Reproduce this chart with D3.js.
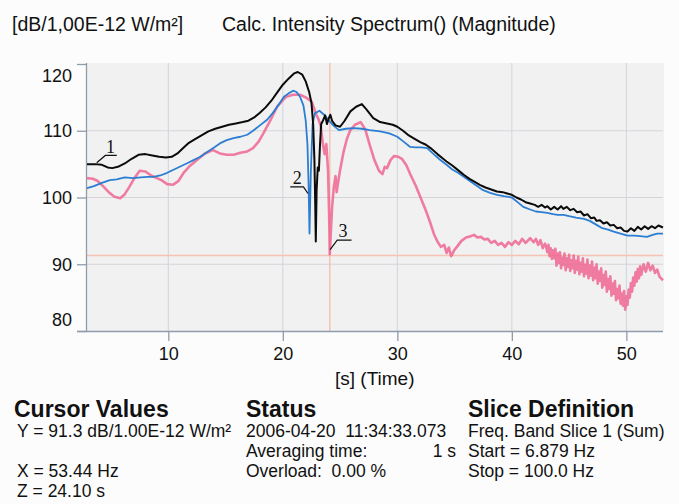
<!DOCTYPE html>
<html><head><meta charset="utf-8">
<script src="https://cdn.jsdelivr.net/npm/d3@7"></script>
<style>
html,body{margin:0;padding:0;background:#fcfcfc;}
svg{display:block;}
text{font-family:"Liberation Sans",Arial,Helvetica,sans-serif;fill:#111;white-space:pre;}
</style></head><body>
<svg id="c" width="679" height="504"></svg>
<script>
// ---- data ----
const titleUnit = "[dB/1,00E-12 W/m²]";
const titleText = "Calc. Intensity Spectrum() (Magnitude)";
const xLabel = "[s] (Time)";
const xDomain = [2.9, 53.2];
const yDomain = [80, 120];
const xTicks = [10, 20, 30, 40, 50];
const yTicks = [80, 90, 100, 110, 120];
const yGrid = [90, 100, 110];
const cursorX = 24.10;
const cursorY = 91.3;

// series 1 (black) [time s, level dB]
const series1 = [
[2.9,105.0],[3.6,105.0],[4.2,104.9],[4.7,104.5],[5.1,104.4],[5.6,104.6],[6.2,105.1],[6.8,105.8],[7.4,106.4],[8.0,106.5],
[8.6,106.3],[9.2,106.1],[9.8,106.0],[10.3,106.1],[10.8,106.6],[11.3,107.4],[11.8,108.2],[12.3,108.7],[12.9,109.3],[13.5,109.9],
[14.1,110.3],[14.7,110.6],[15.3,110.9],[15.9,111.1],[16.5,111.3],[17.0,111.5],[17.5,112.0],[18.0,112.7],[18.5,113.5],[19.0,114.5],
[19.5,115.7],[20.0,116.9],[20.5,117.8],[21.0,118.6],[21.3,118.8],[21.7,118.4],[22.0,117.4],[22.3,115.8],[22.5,114.2],[22.65,111.0],
[22.76,105.6],[22.83,99.0],[22.88,93.4],[22.95,101.0],[23.05,104.5],[23.15,104.0],[23.25,108.0],[23.35,111.0],[23.5,111.5],[23.7,112.3],
[23.85,111.0],[24.0,111.8],[24.15,112.4],[24.3,111.5],[24.6,110.8],[25.0,110.6],[25.4,111.5],[25.9,112.9],[26.4,113.6],[26.9,114.0],
[27.3,113.2],[27.9,111.9],[28.5,111.3],[29.1,111.1],[29.6,110.9],[30.0,110.6],[30.5,110.0],[31.0,109.3],[31.4,108.9],[32.0,108.3],
[32.5,107.9],[32.9,107.4],[33.5,106.5],[34.0,105.8],[34.3,105.4],[34.8,104.8],[35.3,104.1],[35.8,103.4],[36.3,102.8],[36.8,102.3],
[37.2,101.9],[37.7,101.5],[38.2,101.2],[38.7,100.9],[39.2,100.8],[39.6,100.6],[40.0,100.4],[40.4,100.0],[40.8,99.7],[41.2,99.3],
[41.6,99.1],[42.0,98.9],[42.3,98.6],[42.6,98.9],[42.9,98.5],[43.1,98.7],[43.4,98.2],[43.7,98.6],[44.0,98.2],[44.3,98.7],
[44.5,98.3],[44.8,98.6],[45.1,98.1],[45.4,98.3],[45.7,97.8],[46.0,97.9],[46.3,97.3],[46.6,97.5],[46.9,96.9],[47.2,97.0],
[47.4,96.5],[47.7,96.6],[48.0,96.1],[48.3,96.3],[48.6,95.8],[48.9,95.9],[49.2,95.4],[49.5,95.5],[49.8,95.0],[50.1,94.9],
[50.4,95.4],[50.7,95.0],[51.0,95.6],[51.3,95.2],[51.6,95.7],[51.9,95.3],[52.2,95.7],[52.5,95.4],[52.8,95.8],[53.2,95.5]
];

// series 2 (blue)
const series2 = [
[2.9,101.4],[3.5,101.7],[4.2,102.2],[4.9,102.6],[5.5,102.7],[6.2,103.0],[6.9,102.9],[7.6,103.0],[8.2,103.1],[8.7,103.1],
[9.3,103.3],[9.9,103.7],[10.5,104.2],[11.0,104.6],[11.6,105.1],[12.2,105.6],[12.8,106.1],[13.4,106.8],[14.0,107.5],[14.5,108.1],
[15.1,108.6],[15.7,108.9],[16.3,109.1],[16.9,109.4],[17.4,110.0],[18.0,110.8],[18.6,111.6],[19.1,112.6],[19.6,113.8],[20.1,115.1],
[20.5,115.6],[20.9,116.0],[21.2,115.8],[21.5,115.1],[21.8,113.8],[22.0,111.5],[22.15,108.0],[22.25,102.0],[22.33,94.6],[22.45,104.0],
[22.6,111.0],[22.8,112.6],[23.2,113.0],[23.6,112.4],[24.0,111.6],[24.4,110.8],[24.9,110.1],[25.5,110.3],[26.2,110.4],[26.9,110.3],
[27.6,110.1],[28.5,109.9],[29.3,109.6],[30.0,109.1],[30.6,108.3],[31.1,107.6],[31.6,107.5],[32.1,107.5],[32.6,107.4],[33.1,106.6],
[33.7,105.7],[34.3,104.9],[34.8,104.2],[35.3,103.7],[35.8,103.1],[36.3,102.5],[36.9,101.8],[37.5,101.1],[38.1,100.7],[38.7,100.4],
[39.3,100.2],[40.0,100.0],[40.5,99.3],[41.0,98.6],[41.6,98.2],[42.1,97.9],[42.6,97.8],[43.1,97.7],[43.6,97.5],[44.0,97.4],
[44.5,97.4],[45.0,97.2],[45.6,97.0],[46.3,96.8],[46.8,96.5],[47.4,95.9],[47.9,95.4],[48.4,95.2],[48.9,94.9],[49.5,94.6],
[50.1,94.3],[50.7,94.3],[51.2,94.2],[51.8,94.1],[52.3,94.4],[52.7,94.6],[53.2,94.6]
];

// series 3 (pink)
const series3 = [
[2.9,102.9],[3.4,102.8],[3.8,102.5],[4.3,101.7],[4.8,100.8],[5.3,100.1],[5.8,99.9],[6.2,100.5],[6.6,101.6],[7.0,102.8],
[7.5,104.0],[8.0,103.9],[8.5,103.3],[9.0,102.9],[9.4,102.6],[9.9,102.0],[10.4,101.9],[10.9,102.5],[11.3,103.6],[11.8,104.6],
[12.5,105.6],[13.2,106.6],[13.9,107.1],[14.5,106.6],[15.1,106.4],[15.7,106.4],[16.3,106.7],[16.9,106.9],[17.4,107.4],[17.9,108.4],
[18.3,109.6],[18.9,111.5],[19.5,113.6],[20.0,114.6],[20.3,115.1],[20.9,115.4],[21.5,115.4],[22.0,115.0],[22.5,114.4],[22.7,113.5],
[22.9,112.5],[23.1,111.8],[23.3,110.8],[23.5,108.0],[23.65,106.5],[23.8,108.0],[23.95,104.0],[24.05,97.0],[24.1,91.5],[24.2,95.0],
[24.3,98.5],[24.45,101.5],[24.6,103.2],[24.7,100.8],[24.85,102.5],[25.0,104.1],[25.3,106.8],[25.6,108.8],[25.9,110.1],[26.3,110.9],
[26.8,111.3],[27.2,110.2],[27.6,107.8],[28.0,105.6],[28.4,104.0],[28.7,103.5],[28.9,104.6],[29.1,104.4],[29.4,105.6],[29.7,106.2],
[30.1,106.1],[30.4,105.8],[30.8,104.8],[31.1,103.6],[31.6,101.8],[32.0,100.1],[32.5,98.0],[32.9,96.1],[33.2,94.5],[33.5,93.4],
[33.8,92.6],[34.1,92.9],[34.3,91.7],[34.5,92.5],[34.7,91.2],[35.0,92.2],[35.2,92.6],[35.6,93.5],[36.0,94.0],[36.4,94.2],
[36.7,94.4],[37.0,94.0],[37.3,94.1],[37.6,93.7],[37.9,93.8],[38.2,93.2],[38.5,93.5],[38.8,92.9],[39.1,93.2],[39.4,92.6],
[39.7,93.3],[40.0,92.9],[40.3,93.5],[40.6,93.0],[40.9,93.8],[41.2,93.2],[41.6,93.9],[41.9,93.3],[42.1,93.8],[42.3,92.9],
[42.5,93.6],[42.7,92.4],[42.9,93.1],[43.0,92.6],[43.1,91.8],[43.2,92.9],[43.3,91.2],[43.4,92.4],[43.5,90.8],[43.6,92.1],
[43.7,90.9],[43.8,92.3],[43.9,89.8],[44.0,91.6],[44.1,90.2],[44.2,91.8],[44.3,89.4],[44.4,91.0],[44.5,89.9],[44.6,91.6],
[44.7,89.1],[44.8,90.9],[44.9,89.6],[45.0,91.4],[45.1,89.0],[45.2,90.6],[45.3,89.4],[45.4,91.3],[45.5,88.7],[45.6,90.5],
[45.7,89.2],[45.8,91.1],[45.9,88.5],[46.0,90.2],[46.1,88.9],[46.2,90.9],[46.3,88.2],[46.4,89.9],[46.5,88.6],[46.6,90.7],
[46.7,87.9],[46.8,89.8],[46.9,88.3],[47.0,90.4],[47.1,87.6],[47.2,89.5],[47.3,87.9],[47.4,90.0],[47.5,87.1],[47.6,88.9],
[47.7,87.5],[47.8,89.4],[47.9,86.5],[48.0,88.4],[48.1,86.9],[48.2,88.9],[48.3,85.9],[48.4,87.8],[48.5,86.3],[48.6,88.2],
[48.7,85.3],[48.8,87.1],[48.9,85.6],[49.0,87.5],[49.1,84.6],[49.2,86.3],[49.3,84.9],[49.4,86.8],[49.5,84.1],[49.6,85.6],
[49.7,83.8],[49.8,86.0],[49.9,83.2],[50.0,85.2],[50.1,83.9],[50.2,86.2],[50.3,85.0],[50.4,87.2],[50.5,85.9],[50.6,88.0],
[50.7,86.8],[50.8,88.8],[50.9,87.4],[51.0,89.3],[51.1,87.9],[51.2,89.7],[51.3,88.4],[51.5,90.0],[51.7,88.9],[51.9,90.2],
[52.1,89.1],[52.3,89.8],[52.5,88.7],[52.7,89.2],[52.9,88.1],[53.2,87.6]
];

// curve annotations: label, text position [t, dB], leader polyline in [t, dB]
const annotations = [
  {label:"1", at:[4.95,107.6], leader:[[3.75,105.2],[4.5,106.3],[5.5,106.3]]},
  {label:"2", at:[21.25,103.0], leader:[[20.65,101.6],[21.8,101.6],[22.2,100.6]]},
  {label:"3", at:[25.25,95.1], leader:[[24.13,92.2],[24.75,93.6],[26.0,93.6]]}
];

const cursorLines = ["Y = 91.3 dB/1.00E-12 W/m²", "", "X = 53.44 Hz", "Z = 24.10 s"];
const statusLines = ["2006-04-20  11:34:33.073", "Averaging time:", "Overload:  0.00 %"];
const statusValue = "1 s";
const sliceLines = ["Freq. Band Slice 1 (Sum)", "Start = 6.879 Hz", "Stop = 100.0 Hz"];
const headings = ["Cursor Values", "Status", "Slice Definition"];

// ---- drawing ----
const svg = d3.select("#c");
const L = 87, R = 663, T = 63, B = 331;
const x = d3.scaleLinear().domain(xDomain).range([L, R]);
const y = d3.scaleLinear().domain(yDomain).range([B, T + 1]);

svg.append("rect").attr("x",0).attr("y",0).attr("width",679).attr("height",504).attr("fill","#fcfcfc");
svg.append("rect").attr("x",L).attr("y",T).attr("width",R-L+1).attr("height",B-T).attr("fill","#f1f1f1");

// grid
svg.append("g").selectAll("line").data(xTicks).join("line")
  .attr("x1",d=>x(d)).attr("x2",d=>x(d)).attr("y1",T).attr("y2",B)
  .attr("stroke","#cdd5dd").attr("stroke-width",1);
svg.append("g").selectAll("line").data(yGrid).join("line")
  .attr("x1",L).attr("x2",R).attr("y1",d=>y(d)).attr("y2",d=>y(d))
  .attr("stroke","#d6d4da").attr("stroke-width",1);

// cursor lines
svg.append("line").attr("x1",L).attr("x2",R).attr("y1",y(cursorY)).attr("y2",y(cursorY))
  .attr("stroke","#f6c2b2").attr("stroke-width",1.5);
svg.append("line").attr("x1",x(cursorX)).attr("x2",x(cursorX)).attr("y1",T).attr("y2",B)
  .attr("stroke","#f6c2b2").attr("stroke-width",1.5);

// axes
const axColor = "#8f9caa";
const gy = svg.append("g").attr("transform",`translate(${L},0)`)
  .call(d3.axisLeft(y).tickValues(yTicks).tickSize(10).tickPadding(5).tickFormat(d3.format("d")));
const gx = svg.append("g").attr("transform",`translate(0,${B})`)
  .call(d3.axisBottom(x).tickValues(xTicks).tickSize(10).tickPadding(6).tickFormat(d3.format("d")));
[gx, gy].forEach(g=>{
  g.select(".domain").attr("stroke",axColor).attr("stroke-width",1.3);
  g.selectAll(".tick line").attr("stroke",axColor).attr("stroke-width",1.3);
  g.selectAll(".tick text").attr("font-size",18).attr("fill","#111")
    .attr("font-family","'Liberation Sans',Arial,sans-serif");
});
gx.select(".domain").attr("d",`M${L-10},0.5H${R}`);
gy.select(".domain").attr("d",`M-0.5,${T}V${B}`);
gy.selectAll(".tick text").attr("dy",d=> d===yDomain[1] ? "0.95em" : d===yDomain[0] ? "-0.3em" : "0.32em");

// lines
const line = d3.line().x(d=>x(d[0])).y(d=>y(d[1]));
svg.append("path").datum(series3).attr("d",line).attr("fill","none")
  .attr("stroke","#ef5f8c").attr("stroke-opacity",0.8).attr("stroke-width",2.6).attr("stroke-linejoin","round");
svg.append("path").datum(series2).attr("d",line).attr("fill","none")
  .attr("stroke","#2c7ed2").attr("stroke-width",1.8).attr("stroke-linejoin","round");
svg.append("path").datum(series1).attr("d",line).attr("fill","none")
  .attr("stroke","#0b0b0b").attr("stroke-width",2).attr("stroke-linejoin","round");

// annotations
const ag = svg.append("g");
annotations.forEach(a=>{
  ag.append("path").attr("d", d3.line().x(d=>x(d[0])).y(d=>y(d[1]))(a.leader))
    .attr("fill","none").attr("stroke","#111").attr("stroke-width",1.2);
  ag.append("text").attr("x",x(a.at[0])).attr("y",y(a.at[1])).attr("dy","0.35em")
    .attr("text-anchor","middle").attr("font-size",18)
    .style("font-family","'Liberation Serif','Times New Roman',serif").text(a.label);
});

// titles
svg.append("text").attr("x",12).attr("y",31).attr("font-size",19.5).text(titleUnit);
svg.append("text").attr("x",222).attr("y",31).attr("font-size",19.5).text(titleText);
svg.append("text").attr("x",335).attr("y",385).attr("font-size",19).text(xLabel);

// bottom info
const colX = [14, 246, 468];
svg.append("g").selectAll("text").data(headings).join("text")
  .attr("x",(d,i)=>colX[i]).attr("y",417).attr("font-size",23).attr("font-weight","bold").text(d=>d);
const rowY = [437, 457, 477, 497];
const fs = 17.5;
svg.append("g").selectAll("text").data(cursorLines).join("text")
  .attr("x",17).attr("y",(d,i)=>rowY[i]).attr("font-size",fs).text(d=>d);
svg.append("g").selectAll("text").data(statusLines).join("text")
  .attr("x",246).attr("y",(d,i)=>rowY[i]).attr("font-size",fs).text(d=>d);
svg.append("text").attr("x",456).attr("y",rowY[1]).attr("text-anchor","end").attr("font-size",fs).text(statusValue);
svg.append("g").selectAll("text").data(sliceLines).join("text")
  .attr("x",468).attr("y",(d,i)=>rowY[i]).attr("font-size",fs).text(d=>d);
</script>
</body></html>
